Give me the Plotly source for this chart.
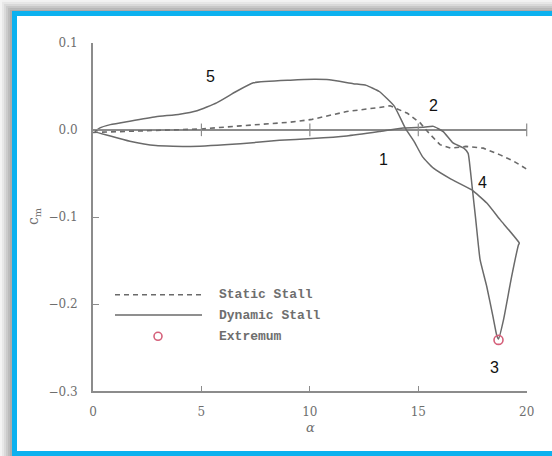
import plotly.graph_objects as go

# ---- data ----
dyn_alpha = [0.1, 0.8, 1.7, 2.9, 4.5, 6.8, 8.6, 10.1, 11.7, 13.2, 14.3, 15.2, 15.7, 16.15,
             16.6, 17.1, 17.3, 17.4, 17.5, 17.65, 17.85, 18.16, 18.45, 18.62, 18.7,
             18.93, 19.3, 19.62, 19.66,
             18.77, 18.16, 17.47, 16.47, 15.7, 15.2, 14.8, 14.4, 13.9, 13.2, 12.6, 12.0,
             10.9, 10.2, 9.1, 7.4, 6.6, 5.7, 4.8, 4.0, 2.9, 1.7, 0.8, 0.3, 0.1]
dyn_cm = [-0.002, -0.007, -0.013, -0.018, -0.019, -0.016, -0.012, -0.010, -0.007, -0.002,
          0.002, 0.003, 0.004, -0.002,
          -0.015, -0.021, -0.027, -0.046, -0.069, -0.103, -0.149, -0.180, -0.215, -0.236, -0.240,
          -0.218, -0.169, -0.132, -0.130,
          -0.103, -0.084, -0.069, -0.056, -0.044, -0.031, -0.013, 0.002, 0.027, 0.044, 0.051,
          0.053, 0.0575, 0.058, 0.057, 0.054, 0.044, 0.031, 0.022, 0.018, 0.015, 0.010,
          0.006, 0.002, -0.002]

static_alpha = [0.0, 1.4, 2.9, 5.0, 6.8, 8.3, 9.1, 10.1, 11.7, 13.2, 13.7, 14.5, 15.1,
                15.5, 15.7, 16.0, 16.5, 17.2, 18.0, 18.8, 19.4, 20.0]
static_cm = [-0.003, -0.002, -0.001, 0.001, 0.0046, 0.0077, 0.0088, 0.012, 0.021, 0.0257,
             0.0276, 0.019, 0.0077, -0.004, -0.009, -0.017, -0.021, -0.019, -0.021, -0.029,
             -0.036, -0.045]

ext_alpha = [18.7]
ext_cm = [-0.241]

zero_ticks_alpha = [5, 10, 15, 20]
zero_ticks_cm = [0, 0, 0, 0]

point_labels = ["5", "2", "1", "4", "3"]
label_alpha = [5.44, 15.68, 13.38, 17.98, 18.5]
label_cm = [0.061, 0.0276, -0.0345, -0.060, -0.273]

x_ticks = [0, 5, 10, 15, 20]
y_ticks = [0.1, 0.0, -0.1, -0.2, -0.3]
legend_names = ["Static Stall", "Dynamic Stall", "Extremum"]

W, H = 552, 456
CURVE = "#6a6a6a"
AXIS = "#8c8c8c"
TXT = "#6e6e6e"
BLUE = "#0cb1ef"
SERIF = "DejaVu Serif"
MONO = "Liberation Mono"


def px(x):
    return x / W


def py(y):
    return 1 - y / H


fig = go.Figure()

fig.add_trace(go.Scatter(x=static_alpha, y=static_cm, mode="lines",
                         line=dict(color=CURVE, width=1.6, dash="5px,4px"),
                         showlegend=False, hoverinfo="skip"))
fig.add_trace(go.Scatter(x=dyn_alpha, y=dyn_cm, mode="lines",
                         line=dict(color=CURVE, width=1.5, shape="spline", smoothing=0.4),
                         showlegend=False, hoverinfo="skip"))
fig.add_trace(go.Scatter(x=zero_ticks_alpha, y=zero_ticks_cm, mode="markers",
                         marker=dict(symbol="line-ns", size=9,
                                     line=dict(color=AXIS, width=1.2)),
                         showlegend=False, hoverinfo="skip", cliponaxis=False))
fig.add_trace(go.Scatter(x=ext_alpha, y=ext_cm, mode="markers",
                         marker=dict(symbol="circle-open", size=9,
                                     line=dict(color="#d5607a", width=1.6),
                                     color="#d5607a"),
                         showlegend=False, hoverinfo="skip", cliponaxis=False))

shapes = []
# shadow (top and left)
top_greys = ["#f2f2f2", "#e6e6e6", "#d8d8d8", "#c8c8c8", "#b8b8b8", "#aaaaaa"]
for i, c in enumerate(top_greys):
    y0 = i * 11 / len(top_greys)
    y1 = (i + 1) * 11 / len(top_greys)
    shapes.append(dict(type="rect", xref="paper", yref="paper", x0=px(0), x1=px(W),
                       y0=py(y1), y1=py(y0), fillcolor=c, line=dict(width=0), layer="below"))
left_greys = ["#f4f4f4", "#e8e8e8", "#dadada", "#cbcbcb", "#bcbcbc", "#adadad"]
for i, c in enumerate(left_greys):
    x0 = i * 12 / len(left_greys)
    x1 = (i + 1) * 12 / len(left_greys)
    shapes.append(dict(type="rect", xref="paper", yref="paper", x0=px(x0), x1=px(x1),
                       y0=py(H), y1=py(min(x0, 11)), fillcolor=c,
                       line=dict(width=0), layer="below"))
# blue frame
shapes.append(dict(type="rect", xref="paper", yref="paper", x0=px(12), x1=px(W),
                   y0=py(16), y1=py(11), fillcolor=BLUE, line=dict(width=0)))
shapes.append(dict(type="rect", xref="paper", yref="paper", x0=px(12), x1=px(17),
                   y0=py(H), y1=py(11), fillcolor=BLUE, line=dict(width=0)))
shapes.append(dict(type="rect", xref="paper", yref="paper", x0=px(12), x1=px(W),
                   y0=py(H), y1=py(451), fillcolor=BLUE, line=dict(width=0)))
# legend samples
shapes.append(dict(type="line", xref="paper", yref="paper", x0=px(115), x1=px(202),
                   y0=py(294.7), y1=py(294.7), line=dict(color=CURVE, width=1.6, dash="5px,4px")))
shapes.append(dict(type="line", xref="paper", yref="paper", x0=px(115), x1=px(202),
                   y0=py(315), y1=py(315), line=dict(color=CURVE, width=1.6)))
shapes.append(dict(type="circle", xref="paper", yref="paper", xsizemode="pixel",
                   ysizemode="pixel", xanchor=px(158), yanchor=py(336.3),
                   x0=-4, x1=4, y0=-4, y1=4, line=dict(color="#d5607a", width=1.6)))

annotations = []
for t, a, c in zip(point_labels, label_alpha, label_cm):
    annotations.append(dict(x=a, y=c, xref="x", yref="y", text=t, showarrow=False,
                            xanchor="center", yanchor="middle",
                            font=dict(family="Liberation Sans, Arial", size=16, color="#111111")))
for name, yy in zip(legend_names, [294.7, 315, 336.3]):
    annotations.append(dict(x=px(217), y=py(yy), xref="paper", yref="paper", text=name,
                            showarrow=False, xanchor="left", yanchor="middle",
                            font=dict(family=MONO, size=13, color=TXT, weight="bold")))
annotations.append(dict(x=px(310), y=py(427), xref="paper", yref="paper", text="<i>α</i>",
                        showarrow=False, xanchor="center", yanchor="middle",
                        font=dict(family=SERIF, size=13, color=TXT)))
annotations.append(dict(x=px(34), y=py(216), xref="paper", yref="paper",
                        text="c<sub>m</sub>", textangle=-90, showarrow=False,
                        xanchor="center", yanchor="middle",
                        font=dict(family=SERIF, size=14, color=TXT)))

fig.update_layout(
    width=W, height=H,
    margin=dict(l=0, r=0, t=0, b=0, autoexpand=False),
    paper_bgcolor="white", plot_bgcolor="white",
    showlegend=False,
    shapes=shapes, annotations=annotations,
    xaxis=dict(domain=[93 / W, 526.7 / W], range=[0, 20], tickvals=x_ticks,
               ticks="inside", ticklen=5, tickwidth=1.2, tickcolor=AXIS,
               showline=True, linecolor=AXIS, linewidth=2, showgrid=False, zeroline=False,
               tickfont=dict(family=SERIF, size=12, color=TXT), ticklabelstandoff=8),
    yaxis=dict(domain=[(H - 391.3) / H, (H - 42.7) / H], range=[-0.3, 0.1],
               tickvals=y_ticks, tickformat=".1f",
               ticks="inside", ticklen=6, tickwidth=1.2, tickcolor=AXIS,
               showline=True, linecolor=AXIS, linewidth=2, showgrid=False,
               zeroline=True, zerolinecolor=AXIS, zerolinewidth=1.6,
               tickfont=dict(family=SERIF, size=12, color=TXT), ticklabelstandoff=11),
)

fig.write_html("out.html",
               config={"displayModeBar": False},
               post_script="document.body.style.margin='0px';document.body.style.padding='0px';"
                           "document.documentElement.style.overflow='hidden';")
